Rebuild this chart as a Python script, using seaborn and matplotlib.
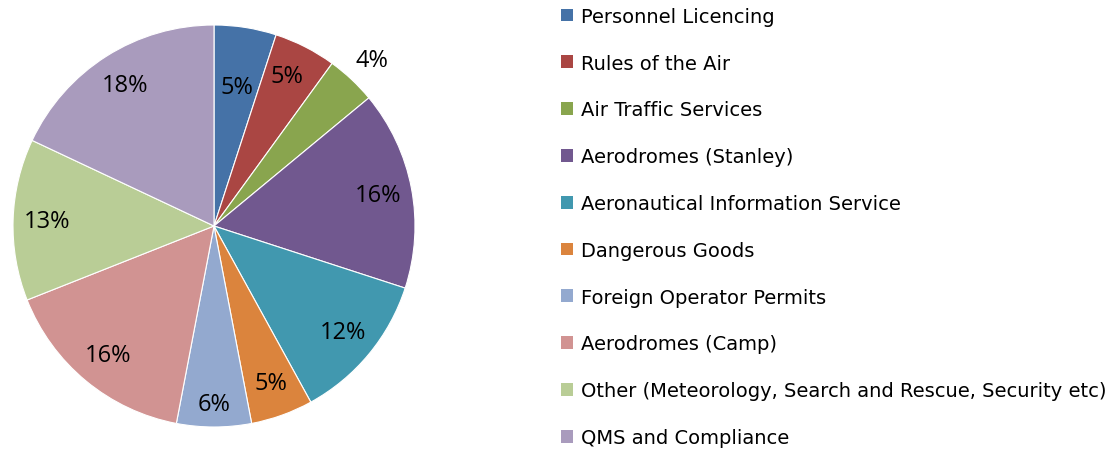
import matplotlib
matplotlib.use("Agg")
import matplotlib.pyplot as plt
import seaborn as sns
import numpy as np
from matplotlib.patches import Patch

categories = [
    "Personnel Licencing",
    "Rules of the Air",
    "Air Traffic Services",
    "Aerodromes (Stanley)",
    "Aeronautical Information Service",
    "Dangerous Goods",
    "Foreign Operator Permits",
    "Aerodromes (Camp)",
    "Other (Meteorology, Search and Rescue, Security etc)",
    "QMS and Compliance",
]
values = [5, 5, 4, 16, 12, 5, 6, 16, 13, 18]
colors = ["#4572A7", "#AA4643", "#89A54E", "#71588F", "#4198AF",
          "#DB843D", "#93A9CF", "#D19392", "#B9CD96", "#A99BBD"]

sns.set_theme(style="white")
plt.rcParams['font.family'] = ['DejaVu Sans']

W, H = 1119, 452
fig = plt.figure(figsize=(W / 100, H / 100), dpi=100)
cx, cy, r = 214, 227, 201
ax = fig.add_axes([(cx - r) / W, (H - cy - r) / H, 2 * r / W, 2 * r / H])

wedges, texts, autotexts = ax.pie(
    values, colors=sns.color_palette(colors), startangle=90, counterclock=False,
    radius=1, autopct=lambda p: f"{p:.0f}%", pctdistance=0.83,
    wedgeprops=dict(edgecolor="white", linewidth=0.8),
    textprops=dict(fontsize=17, color="black", family=['Open Sans', 'DejaVu Sans']))
ax.set_xlim(-1, 1)
ax.set_ylim(-1, 1)
ax.set_aspect("equal")
ax.axis("off")

# label placement tweaks (radius factor, angle in degrees) for a few labels
tweaks = {0: (0.70, 80.6), 1: (0.83, 64.0), 2: (1.14, 46.6), 6: (0.885, -90)}
for i, (rf, ang) in tweaks.items():
    a = np.deg2rad(ang)
    autotexts[i].set_position((rf * np.cos(a), rf * np.sin(a)))

handles = [Patch(facecolor=c, edgecolor="none") for c in colors]
leg = fig.legend(handles, categories, loc="upper left",
                 bbox_to_anchor=(553 / W, 1.0), frameon=False,
                 prop=dict(family='DejaVu Sans', size=14), labelcolor="black",
                 handlelength=0.64, handleheight=0.64,
                 handletextpad=0.4, labelspacing=1.43, borderaxespad=0)

fig.savefig("out.png", dpi=100, facecolor="white")
